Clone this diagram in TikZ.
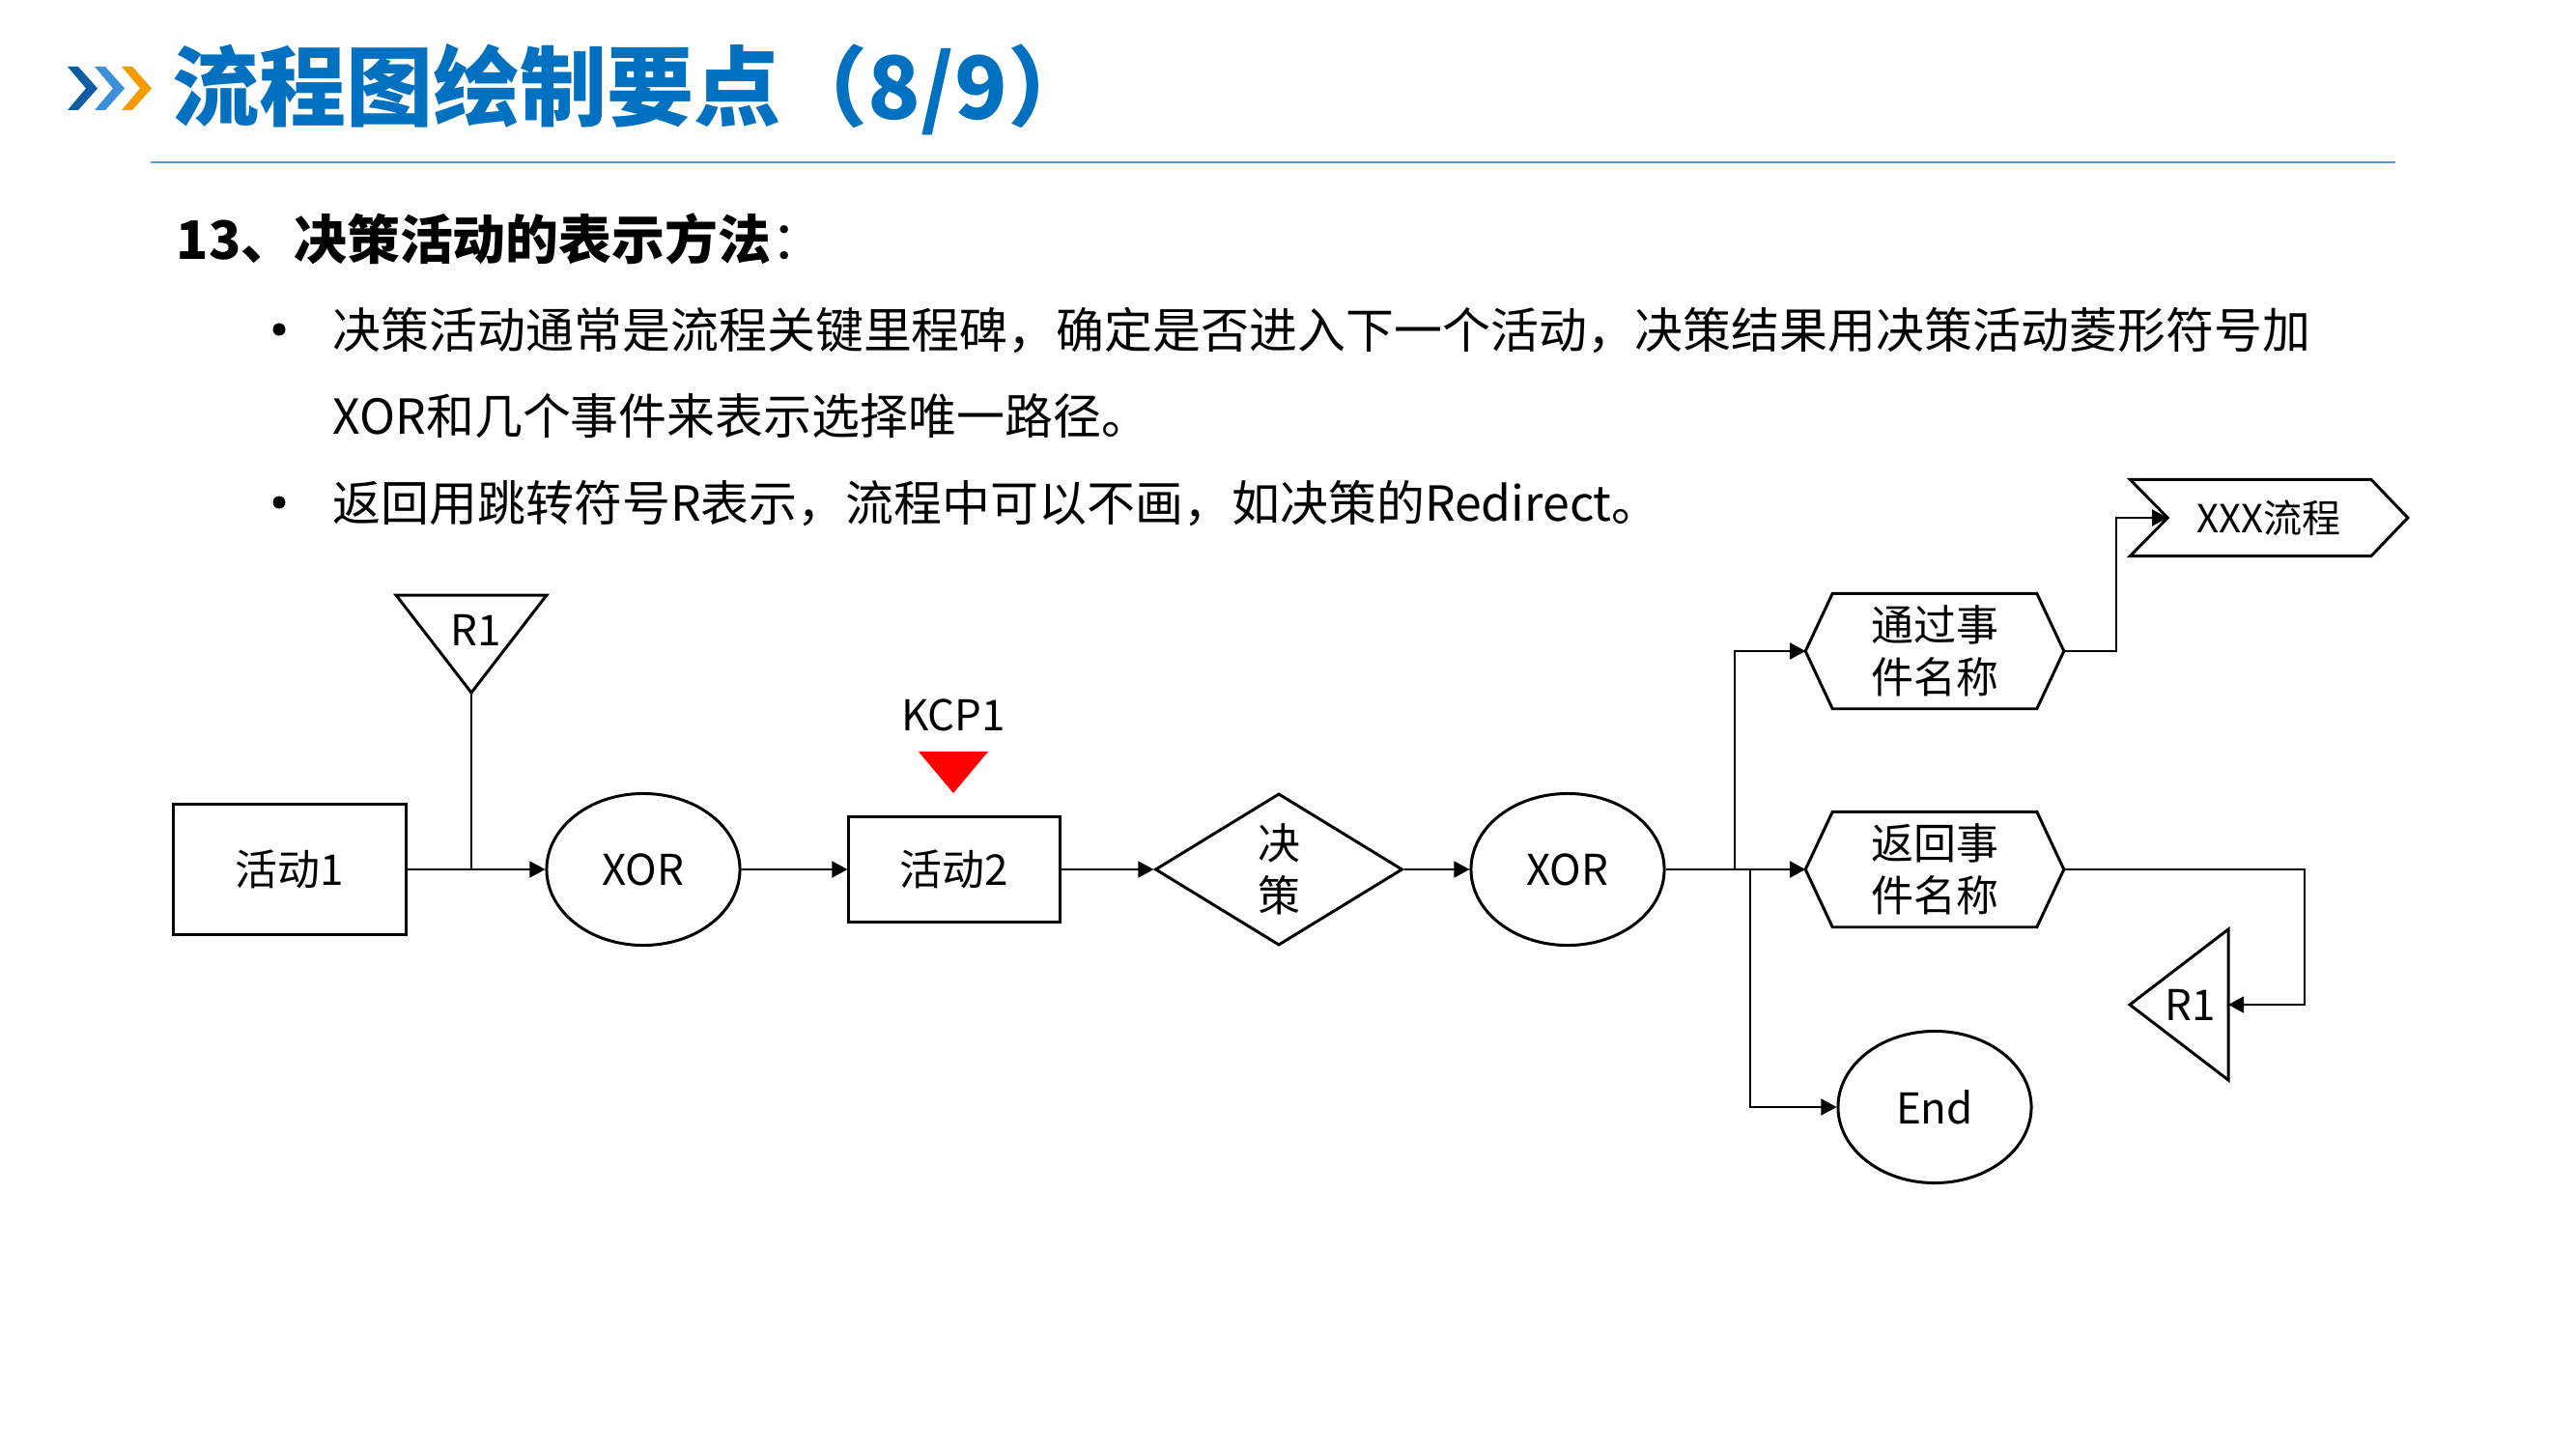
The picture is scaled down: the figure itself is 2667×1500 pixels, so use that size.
\documentclass[tikz,border=0pt]{standalone}
\usepackage{fontspec}
\setmainfont{Noto Sans CJK SC}
\usetikzlibrary{shapes.geometric,arrows.meta,calc}
\definecolor{titleblue}{HTML}{0070C0}
\definecolor{rulerblue}{HTML}{5B9BD5}
\definecolor{chevdark}{HTML}{0B5CA3}
\definecolor{chevlight}{HTML}{3D8FDC}
\definecolor{chevorange}{HTML}{F59B00}
\newcommand{\fsz}[2]{\fontsize{#1pt}{#2pt}\selectfont}

\begin{document}
\begin{tikzpicture}[x=0.01cm,y=-0.01cm,
  outline/.style={draw=black,line width=0.85pt},
  conn/.style={draw=black,line width=0.4pt},
  arr/.style={conn,-{Triangle[length=0.16cm,width=0.17cm]}},
  lbl/.style={inner sep=0pt,font=\fsz{12.5}{15.4},align=center},
  actbox/.style={outline,rectangle,inner sep=0pt,font=\fsz{12.5}{15.4}},
  oval/.style={outline,ellipse,inner sep=0pt,minimum width=2cm,minimum height=1.57cm,font=\fsz{12.5}{15.4}},
  bodytext/.style={anchor=west,inner sep=0pt,font=\fsz{14.2}{17}},
  bulletdot/.style={circle,fill=black,inner sep=0pt,minimum size=0.13cm}
]
\useasboundingbox (0,0) rectangle (2667,1500);

% title chevrons
\fill[chevdark]   (70,69)  -- (81,69)  -- (101,91.5) -- (81,114)  -- (70,114)  -- (89,91.5)  -- cycle;
\fill[chevlight]  (98,69)  -- (109,69) -- (129,91.5) -- (109,114) -- (98,114)  -- (117,91.5) -- cycle;
\fill[chevorange] (126,69) -- (137,69) -- (157,91.5) -- (137,114) -- (126,114) -- (145,91.5) -- cycle;

% title and rule
\node[anchor=west,inner sep=0pt,text=titleblue,font=\bfseries\fsz{25.6}{30}] (title) at (178,93) {流程图绘制要点（8/9）};
\draw[rulerblue,line width=0.55pt] (156,168) -- (2480,168);

% heading and bullet text
\node[anchor=west,inner sep=0pt,font=\fsz{15.6}{18}] (head) at (182,247) {\textbf{13、决策活动的表示方法}：};
\node[bulletdot] (b1) at (289,341) {};
\node[bulletdot] (b2) at (289,520) {};
\node[bodytext] (t1) at (344,342) {决策活动通常是流程关键里程碑，确定是否进入下一个活动，决策结果用决策活动菱形符号加};
\node[bodytext] (t2) at (344,431) {XOR和几个事件来表示选择唯一路径。};
\node[bodytext] (t3) at (344,521) {返回用跳转符号R表示，流程中可以不画，如决策的Redirect。};

% main flow
\node[actbox,minimum width=2.4cm,minimum height=1.35cm] (act1) at (300,900) {活动1};
\node[oval] (xor1) at (666,900) {XOR};
\node[actbox,minimum width=2.18cm,minimum height=1.08cm] (act2) at (988,900) {活动2};
\node[lbl,outline,diamond,minimum width=2.56cm,minimum height=1.57cm] (dec) at (1324,900) {决\\策};
\node[oval] (xor2) at (1623,900) {XOR};
\node[oval] (endn) at (2003,1146) {End};

% jump-in marker R1
\node[lbl] (r1a) at (493,652) {R1};
\draw[outline] (410,616) -- (566,616) -- (488,717) -- cycle;
\coordinate (r1atip) at (488,717);

% key control point
\node[lbl] (kcp) at (987,740) {KCP1};
\fill[red] (951,778) -- (1023,778) -- (987,821) -- cycle;

% events
\node[lbl,minimum width=2.66cm,minimum height=1.18cm] (ev1) at (2003,674) {通过事\\件名称};
\draw[outline] (ev1.west) -- ($(ev1.north west)+(28,0)$) -- ($(ev1.north east)+(-28,0)$) -- (ev1.east)
  -- ($(ev1.south east)+(-28,0)$) -- ($(ev1.south west)+(28,0)$) -- cycle;
\node[lbl,minimum width=2.66cm,minimum height=1.18cm] (ev2) at (2003,900) {返回事\\件名称};
\draw[outline] (ev2.west) -- ($(ev2.north west)+(28,0)$) -- ($(ev2.north east)+(-28,0)$) -- (ev2.east)
  -- ($(ev2.south east)+(-28,0)$) -- ($(ev2.south west)+(28,0)$) -- cycle;

% process interface
\node[lbl,font=\fsz{11.4}{14},minimum width=2.86cm,minimum height=0.78cm] (xxx) at (2349,536) {XXX流程};
\draw[outline] (xxx.north west) -- ($(xxx.north east)+(-38,0)$) -- (xxx.east) -- ($(xxx.south east)+(-38,0)$)
  -- (xxx.south west) -- ($(xxx.west)+(39,0)$) -- cycle;
\coordinate (xxxin) at ($(xxx.west)+(39,0)$);

% jump-out marker R1
\node[lbl] (r1b) at (2268,1040) {R1};
\draw[outline] (2205,1040) -- (2307,962) -- (2307,1118) -- cycle;
\coordinate (r1bin) at (2307,1040);

% connectors
\draw[conn] (r1atip) -- (r1atip |- act1.east);
\draw[arr] (act1) -- (xor1);
\draw[arr] (xor1) -- (act2);
\draw[arr] (act2) -- (dec);
\draw[arr] (dec) -- (xor2);
\coordinate (jn) at (1796,900);
\coordinate (jn2) at (1812,900);
\draw[conn] (xor2) -- (jn2);
\draw[arr] (jn) |- (ev1.west);
\draw[arr] (jn) -- (ev2.west);
\draw[arr] (jn2) |- (endn.west);
\draw[arr] (ev1.east) -- ++(54,0) |- (xxxin);
\draw[arr] (ev2.east) -- ++(249,0) |- (r1bin);
\end{tikzpicture}
\end{document}
